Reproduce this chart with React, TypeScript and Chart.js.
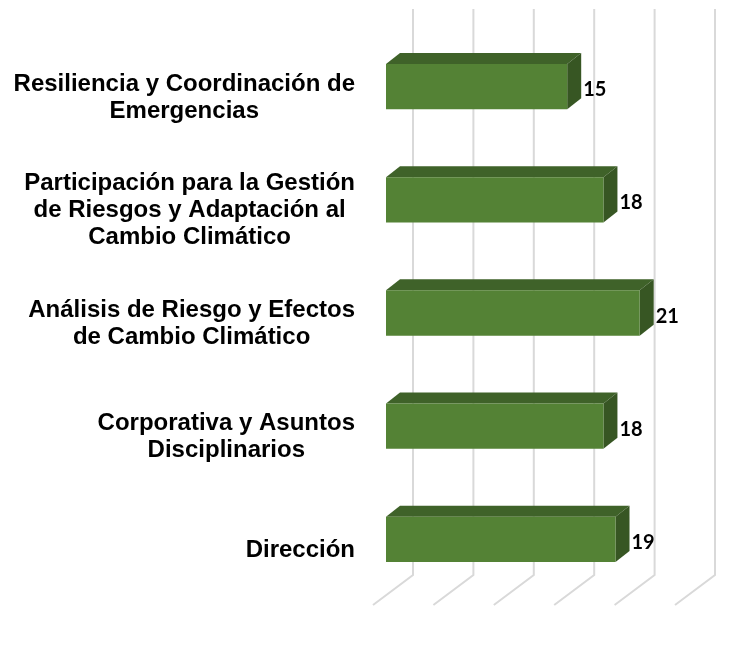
import React, { useEffect, useRef } from "react";
import { Chart, registerables } from "chart.js";

Chart.register(...registerables);

const categories: string[][] = [
  ["Resiliencia y Coordinación de", "Emergencias"],
  ["Participación para la Gestión", "de Riesgos y Adaptación al", "Cambio Climático"],
  ["Análisis de Riesgo y Efectos", "de Cambio Climático"],
  ["Corporativa y Asuntos", "Disciplinarios"],
  ["Dirección"],
];
const values: number[] = [15, 18, 21, 18, 19];
const gridValues: number[] = [0, 5, 10, 15, 20, 25];

const FRONT = "#548235";
const TOP = "#3f6229";
const SIDE = "#375623";
const DX = 14;
const DY = 11;

const threeD = {
  id: "threeD",
  beforeDatasetsDraw(chart: any) {
    const ctx = chart.ctx;
    const xs = chart.scales.x;
    ctx.save();
    ctx.strokeStyle = "#d9d9d9";
    ctx.lineWidth = 2;
    gridValues.forEach((v) => {
      const xb = xs.getPixelForValue(v) + 27;
      ctx.beginPath();
      ctx.moveTo(xb, 9);
      ctx.lineTo(xb, 575);
      ctx.lineTo(xb - 40, 605);
      ctx.stroke();
    });
    const meta = chart.getDatasetMeta(0);
    meta.data.forEach((bar: any) => {
      const { x, y, base, height } = bar.getProps(["x", "y", "base", "height"], true);
      const top = y - height / 2;
      const bottom = y + height / 2;
      ctx.fillStyle = TOP;
      ctx.beginPath();
      ctx.moveTo(base, top);
      ctx.lineTo(base + DX, top - DY);
      ctx.lineTo(x + DX, top - DY);
      ctx.lineTo(x, top);
      ctx.closePath();
      ctx.fill();
      ctx.fillStyle = SIDE;
      ctx.beginPath();
      ctx.moveTo(x, top);
      ctx.lineTo(x + DX, top - DY);
      ctx.lineTo(x + DX, bottom - DY);
      ctx.lineTo(x, bottom);
      ctx.closePath();
      ctx.fill();
    });
    ctx.restore();
  },
  afterDatasetsDraw(chart: any) {
    const ctx = chart.ctx;
    const meta = chart.getDatasetMeta(0);
    ctx.save();
    ctx.fillStyle = "#000000";
    ctx.font = "bold 20px Lato";
    ctx.textAlign = "left";
    ctx.textBaseline = "alphabetic";
    meta.data.forEach((bar: any, i: number) => {
      const { x, y } = bar.getProps(["x", "y"], true);
      ctx.fillText(String(values[i]), x + DX + 2, y + 9.5);
    });
    ctx.font = "bold 24px 'Liberation Sans', Arial, sans-serif";
    ctx.textAlign = "center";
    const LH = 27;
    const RIGHT = 355;
    meta.data.forEach((bar: any, i: number) => {
      const { y } = bar.getProps(["y"], true);
      const lines = categories[i];
      const w = Math.max(...lines.map((l) => ctx.measureText(l).width));
      const cx = RIGHT - w / 2;
      const c = y + 9;
      const n = lines.length;
      lines.forEach((l, j) => {
        ctx.fillText(l, cx, c + (j - (n - 1) / 2) * LH + 8.5);
      });
    });
    ctx.restore();
  },
};

export default function App() {
  const ref = useRef<HTMLCanvasElement | null>(null);
  useEffect(() => {
    if (!ref.current) return;
    const chart = new Chart(ref.current, {
      type: "bar",
      data: {
        labels: categories.map((c) => c.join(" ")),
        datasets: [
          {
            data: values,
            backgroundColor: FRONT,
            borderWidth: 0,
            barPercentage: 0.4,
            categoryPercentage: 1,
          },
        ],
      },
      options: {
        indexAxis: "y",
        animation: false,
        responsive: false,
        maintainAspectRatio: false,
        layout: { padding: { left: 386, right: 62, top: 30, bottom: 64 } },
        plugins: { legend: { display: false }, tooltip: { enabled: false } },
        scales: {
          x: { display: false, min: 0, max: 25 },
          y: { display: false },
        },
      },
      plugins: [threeD],
    });
    return () => chart.destroy();
  }, []);
  return (
    <div style={{ position: "absolute", left: 0, top: 0, width: 750, height: 660, background: "#fff" }}>
      <canvas ref={ref} width={750} height={660} style={{ width: 750, height: 660 }} />
    </div>
  );
}
